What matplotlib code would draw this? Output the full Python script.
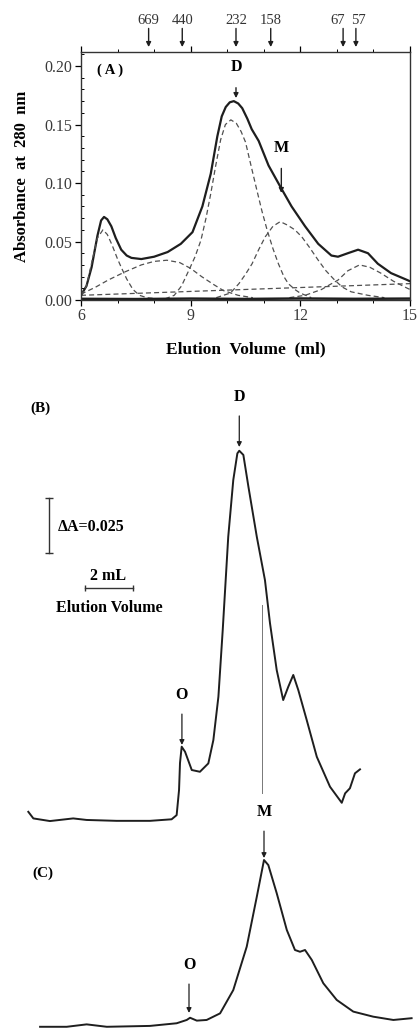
import matplotlib
matplotlib.use("Agg")
import matplotlib.pyplot as plt
from matplotlib.ticker import MultipleLocator

plt.rcParams['font.family'] = ['Liberation Serif', 'DejaVu Serif']

# ---- panel A: Superdex profile with gaussian deconvolution ----
vol_total = [6.0, 6.15, 6.29, 6.45, 6.55, 6.63, 6.72, 6.83, 6.95, 7.1, 7.25, 7.38, 7.65,
             8.0, 8.37, 8.73, 9.05, 9.32, 9.55, 9.73, 9.85, 9.96, 10.07, 10.18, 10.3,
             10.41, 10.55, 10.67, 10.86, 11.13, 11.45, 11.76, 12.13, 12.49, 12.85, 13.03,
             13.3, 13.58, 13.85, 14.12, 14.48, 14.93, 15.0]
abs_total = [0.004, 0.012, 0.028, 0.055, 0.068, 0.071, 0.069, 0.063, 0.053, 0.043, 0.038,
             0.036, 0.035, 0.037, 0.041, 0.048, 0.058, 0.080, 0.108, 0.140, 0.157, 0.165,
             0.169, 0.170, 0.168, 0.164, 0.155, 0.146, 0.136, 0.115, 0.097, 0.080, 0.063,
             0.048, 0.038, 0.037, 0.040, 0.043, 0.040, 0.031, 0.023, 0.017, 0.016]

vol_p1 = [6.0, 6.15, 6.3, 6.45, 6.6, 6.72, 6.85, 7.0, 7.1, 7.25, 7.42, 7.6, 7.8, 8.1]
abs_p1 = [0.004, 0.012, 0.033, 0.053, 0.060, 0.056, 0.047, 0.035, 0.028, 0.018, 0.009,
          0.004, 0.002, 0.001]

vol_p2 = [6.0, 6.4, 6.74, 7.2, 7.65, 8.0, 8.35, 8.7, 9.0, 9.3, 9.64, 9.9, 10.3, 10.7]
abs_p2 = [0.005, 0.011, 0.017, 0.024, 0.030, 0.033, 0.034, 0.032, 0.027, 0.020, 0.013,
          0.008, 0.004, 0.002]

vol_p3 = [8.3, 8.55, 8.75, 8.96, 9.12, 9.28, 9.42, 9.55, 9.68, 9.82, 9.95, 10.1, 10.25,
          10.38, 10.5, 10.65, 10.81, 10.95, 11.09, 11.25, 11.4, 11.55, 11.67, 11.85, 11.99, 12.3]
abs_p3 = [0.001, 0.004, 0.012, 0.026, 0.037, 0.051, 0.070, 0.091, 0.114, 0.137, 0.150,
          0.154, 0.151, 0.144, 0.135, 0.115, 0.094, 0.076, 0.060, 0.044, 0.031, 0.020,
          0.014, 0.009, 0.006, 0.002]

vol_p4 = [9.7, 10.09, 10.32, 10.5, 10.68, 10.86, 11.04, 11.25, 11.45, 11.65, 11.85, 12.04,
          12.25, 12.49, 12.7, 12.94, 13.15, 13.39, 13.85, 14.3]
abs_p4 = [0.002, 0.006, 0.014, 0.022, 0.031, 0.043, 0.054, 0.063, 0.067, 0.064, 0.060,
          0.054, 0.045, 0.034, 0.025, 0.017, 0.011, 0.007, 0.004, 0.002]

vol_p5 = [11.7, 12.13, 12.58, 12.8, 13.03, 13.3, 13.62, 13.9, 14.2, 14.55, 14.93, 15.0]
abs_p5 = [0.002, 0.004, 0.009, 0.013, 0.017, 0.025, 0.030, 0.028, 0.023, 0.016, 0.010, 0.009]

vol_base = [6.0, 15.0]
abs_base = [0.004, 0.014]

vol_resid = [6.0, 7.5, 9.0, 10.5, 12.0, 13.5, 15.0]
abs_resid = [0.001, 0.0008, 0.0012, 0.0009, 0.0013, 0.001, 0.0012]

# molecular weight standards (kDa) on top
std_labels = ['669', '440', '232', '158', '67', '57']
std_vols = [7.85, 8.77, 10.24, 11.19, 13.17, 13.52]
std_text_vols = [7.85, 8.77, 10.24, 11.19, 13.03, 13.58]

# ---- panels B and C: raw traces (x in mL, y in absorbance above own baseline) ----
vol_B = [1.18, 1.39, 2.08, 3.05, 3.61, 4.86, 6.25, 7.15, 7.36, 7.46, 7.5, 7.57, 7.71, 7.99,
         8.33, 8.68, 8.89, 9.10, 9.28, 9.51, 9.72, 9.89, 9.97, 10.14, 10.35, 10.70, 11.04,
         11.25, 11.53, 11.80, 12.01, 12.22, 12.43, 12.78, 13.20, 13.75, 14.24, 14.38, 14.58,
         14.79, 15.0]
abs_B = [0.0042, 0.0012, 0.0, 0.0012, 0.0005, 0.0001, 0.0001, 0.0008, 0.0027, 0.0141,
         0.0264, 0.0338, 0.0315, 0.0232, 0.0224, 0.0262, 0.0368, 0.0565, 0.0868, 0.1292,
         0.155, 0.1671, 0.1683, 0.1664, 0.152, 0.1292, 0.1095, 0.0899, 0.0686, 0.055, 0.061,
         0.0664, 0.0595, 0.0459, 0.0292, 0.0156, 0.0083, 0.0126, 0.0149, 0.0217, 0.0235]

vol_C = [1.67, 2.78, 3.61, 4.45, 6.25, 7.36, 7.78, 7.92, 8.2, 8.61, 9.17, 9.72, 10.28,
         10.70, 11.0, 11.18, 11.53, 11.95, 12.29, 12.5, 12.71, 12.99, 13.47, 14.03, 14.72,
         15.55, 16.39, 17.15]
abs_C = [0.0001, 0.0001, 0.0012, 0.0001, 0.0005, 0.0017, 0.0032, 0.0042, 0.0029, 0.0032,
         0.0062, 0.0168, 0.0365, 0.0592, 0.0759, 0.0736, 0.0608, 0.0441, 0.035, 0.0342,
         0.035, 0.0305, 0.0199, 0.0123, 0.007, 0.0047, 0.0032, 0.004]

ink = '#1e1e1e'
dash = '#505050'
fig = plt.figure(figsize=(4.2, 10.3), dpi=100)

# ------------------------------ panel A
ax = fig.add_axes([81/420, 1 - 300/1030, 329/420, 248/1030])
ax.plot(vol_total, abs_total, color=ink, lw=1.6)
for v, a in [(vol_p1, abs_p1), (vol_p2, abs_p2), (vol_p3, abs_p3),
             (vol_p4, abs_p4), (vol_p5, abs_p5), (vol_base, abs_base)]:
    ax.plot(v, a, color=dash, lw=0.9, ls=(0, (4, 2.5)))
ax.plot(vol_resid, abs_resid, color=ink, lw=1.8)

ax.set_xlim(6, 15)
ax.set_ylim(0, 0.212)
ax.set_xticks([6, 9, 12, 15])
ax.set_yticks([0, 0.05, 0.10, 0.15, 0.20])
ax.set_yticklabels(['0.00', '0.05', '0.10', '0.15', '0.20'])
ax.xaxis.set_minor_locator(MultipleLocator(1))
ax.yaxis.set_minor_locator(MultipleLocator(0.01))
ax.tick_params(which='major', direction='out', length=4, width=0.9, labelsize=11.5,
               labelcolor='#3a3a3a', top=True, pad=2)
ax.tick_params(which='minor', direction='in', length=2.5, width=0.7, top=True)
ax.tick_params(axis='x', which='both', top=True, direction='out')
for s in ax.spines.values():
    s.set_linewidth(1.0)
    s.set_color('#333333')

ax.set_ylabel('Absorbance  at  280  nm', fontsize=12, fontweight='bold', labelpad=11)
ax.set_xlabel('Elution  Volume  (ml)', fontsize=12.5, fontweight='bold', labelpad=12)

xtr = ax.get_xaxis_transform()
for lab, v, tv in zip(std_labels, std_vols, std_text_vols):
    ax.annotate(lab, xy=(v, 1.02), xycoords=xtr, xytext=(tv, 1.125), textcoords=xtr,
                ha='center', va='center', fontsize=10.5, color='#333333')
    ax.annotate('', xy=(v, 1.02), xycoords=xtr, xytext=(v, 1.095), textcoords=xtr,
                arrowprops=dict(arrowstyle='-|>', color=ink, lw=1.0,
                                mutation_scale=7, shrinkA=0, shrinkB=0))

ax.text(6.45, 0.196, '( A )', fontsize=10.5, fontweight='bold', va='center')
ax.annotate('D', xy=(10.24, 0.1726), xytext=(10.24, 0.199), ha='center', va='center',
            fontsize=11.5, fontweight='bold',
            arrowprops=dict(arrowstyle='-|>', color=ink, lw=1.0, mutation_scale=7,
                            shrinkA=7, shrinkB=0))
ax.annotate('M', xy=(11.48, 0.0915), xytext=(11.48, 0.130), ha='center', va='center',
            fontsize=11.5, fontweight='bold',
            arrowprops=dict(arrowstyle='-|>', color=ink, lw=1.0, mutation_scale=7,
                            shrinkA=7, shrinkB=0))

# ------------------------------ panels B and C
bx = fig.add_axes([0, 0, 1, 660/1030])
bx.set_xlim(0, 17.5)
bx.set_ylim(-0.00136, 0.2986)
bx.axis('off')

off_B = 0.0936
bx.plot(vol_B, [a + off_B for a in abs_B], color=ink, lw=1.4)
bx.plot(vol_C, abs_C, color=ink, lw=1.4)

# thin guide line from M of C up into B
bx.plot([10.9, 10.9], [0.1064, 0.1918], color='#777777', lw=0.7)

arr = dict(arrowstyle='-|>', color=ink, lw=0.9, mutation_scale=7, shrinkA=6, shrinkB=0)
bx.text(1.25, 0.2814, '(B)', fontsize=11, fontweight='bold', va='center', ha='left')
bx.annotate('D', xy=(9.97, 0.2636), xytext=(9.97, 0.2864), ha='center', va='center',
            fontsize=11.5, fontweight='bold', arrowprops=arr)
bx.annotate('O', xy=(7.58, 0.1282), xytext=(7.58, 0.1509), ha='center', va='center',
            fontsize=11.5, fontweight='bold', arrowprops=arr)
bx.text(1.35, 0.070, '(C)', fontsize=11, fontweight='bold', va='center', ha='left')
bx.annotate('M', xy=(11.0, 0.0768), xytext=(11.0, 0.0977), ha='center', va='center',
            fontsize=11.5, fontweight='bold', arrowprops=arr)
bx.annotate('O', xy=(7.875, 0.0064), xytext=(7.875, 0.0282), ha='center', va='center',
            fontsize=11.5, fontweight='bold', arrowprops=arr)

# scale bars
bx.plot([2.04, 2.04], [0.2155, 0.2405], color='#333333', lw=1.0)
bx.plot([2.04, 2.04], [0.2155, 0.2405], ls='none', marker='_', ms=6, mew=1.0,
        color='#333333')
bx.text(2.42, 0.2273, 'ΔA=0.025', fontsize=11.5, fontweight='bold', va='center',
        ha='left')
bx.plot([3.54, 5.54], [0.1995, 0.1995], color='#333333', lw=1.0)
bx.plot([3.54, 5.54], [0.1995, 0.1995], ls='none', marker='|', ms=5, mew=1.0,
        color='#333333')
bx.text(4.5, 0.2048, '2 mL', fontsize=11.5, fontweight='bold', va='center', ha='center')
bx.text(4.54, 0.1905, 'Elution Volume', fontsize=11.5, fontweight='bold', va='center',
        ha='center')

fig.savefig('out.png', dpi=100)
